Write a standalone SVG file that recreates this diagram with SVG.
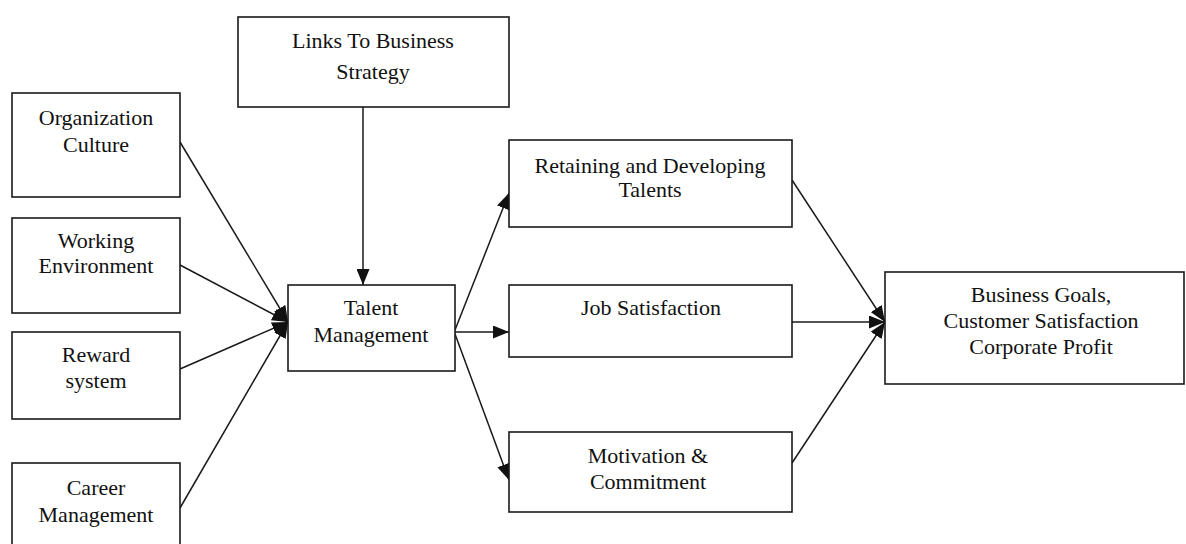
<svg xmlns="http://www.w3.org/2000/svg" width="1186" height="544" viewBox="0 0 1186 544">
  <style>
    .box { fill: #ffffff; stroke: #1a1a1a; stroke-width: 1.6; }
    .lbl { font-family: "Liberation Serif", "Times New Roman", serif; font-size: 22px; fill: #111111; text-anchor: middle; }
    .edge { fill: none; stroke: #1a1a1a; stroke-width: 1.5; }
  </style>
  <defs>
    <marker id="head" viewBox="0 0 16 13" refX="16" refY="6.5" markerWidth="16" markerHeight="13" markerUnits="userSpaceOnUse" orient="auto">
      <path d="M0,0 L16,6.5 L0,13 z" fill="#111111"/>
    </marker>
  </defs>
  <rect width="1186" height="544" fill="#ffffff"/>

  <!-- connectors -->
  <g id="connectors">
    <line class="edge" x1="363" y1="107" x2="363" y2="285" marker-end="url(#head)"/>
    <line class="edge" x1="180" y1="142" x2="288" y2="322" marker-end="url(#head)"/>
    <line class="edge" x1="180" y1="265" x2="288" y2="322" marker-end="url(#head)"/>
    <line class="edge" x1="180" y1="369" x2="288" y2="322" marker-end="url(#head)"/>
    <line class="edge" x1="180" y1="508" x2="288" y2="322" marker-end="url(#head)"/>
    <line class="edge" x1="455" y1="330" x2="509" y2="193" marker-end="url(#head)"/>
    <line class="edge" x1="455" y1="332" x2="509" y2="332" marker-end="url(#head)"/>
    <line class="edge" x1="455" y1="334" x2="509" y2="480" marker-end="url(#head)"/>
    <line class="edge" x1="792" y1="180" x2="885" y2="322" marker-end="url(#head)"/>
    <line class="edge" x1="792" y1="322" x2="885" y2="322" marker-end="url(#head)"/>
    <line class="edge" x1="792" y1="463" x2="885" y2="322" marker-end="url(#head)"/>
  </g>

  <g id="links-strategy">
    <rect class="box" x="238" y="17" width="271" height="90"/>
    <text class="lbl" x="373" y="48">Links To Business</text>
    <text class="lbl" x="373" y="79">Strategy</text>
  </g>

  <g id="organization-culture">
    <rect class="box" x="12" y="93" width="168" height="104"/>
    <text class="lbl" x="96" y="125">Organization</text>
    <text class="lbl" x="96" y="152">Culture</text>
  </g>

  <g id="working-environment">
    <rect class="box" x="12" y="218" width="168" height="95"/>
    <text class="lbl" x="96" y="248">Working</text>
    <text class="lbl" x="96" y="273">Environment</text>
  </g>

  <g id="reward-system">
    <rect class="box" x="12" y="332" width="168" height="87"/>
    <text class="lbl" x="96" y="362">Reward</text>
    <text class="lbl" x="96" y="388">system</text>
  </g>

  <g id="career-management">
    <rect class="box" x="12" y="463" width="168" height="100"/>
    <text class="lbl" x="96" y="495">Career</text>
    <text class="lbl" x="96" y="522">Management</text>
  </g>

  <g id="talent-management">
    <rect class="box" x="288" y="285" width="167" height="86"/>
    <text class="lbl" x="371" y="315">Talent</text>
    <text class="lbl" x="371" y="342">Management</text>
  </g>

  <g id="retaining-developing">
    <rect class="box" x="509" y="140" width="283" height="87"/>
    <text class="lbl" x="650" y="173">Retaining and Developing</text>
    <text class="lbl" x="650" y="197">Talents</text>
  </g>

  <g id="job-satisfaction">
    <rect class="box" x="509" y="285" width="283" height="72"/>
    <text class="lbl" x="651" y="315">Job Satisfaction</text>
  </g>

  <g id="motivation-commitment">
    <rect class="box" x="509" y="432" width="283" height="80"/>
    <text class="lbl" x="648" y="463">Motivation &amp;</text>
    <text class="lbl" x="648" y="489">Commitment</text>
  </g>

  <g id="business-goals">
    <rect class="box" x="885" y="272" width="299" height="112"/>
    <text class="lbl" x="1041" y="302">Business Goals,</text>
    <text class="lbl" x="1041" y="328">Customer Satisfaction</text>
    <text class="lbl" x="1041" y="354">Corporate Profit</text>
  </g>
</svg>
